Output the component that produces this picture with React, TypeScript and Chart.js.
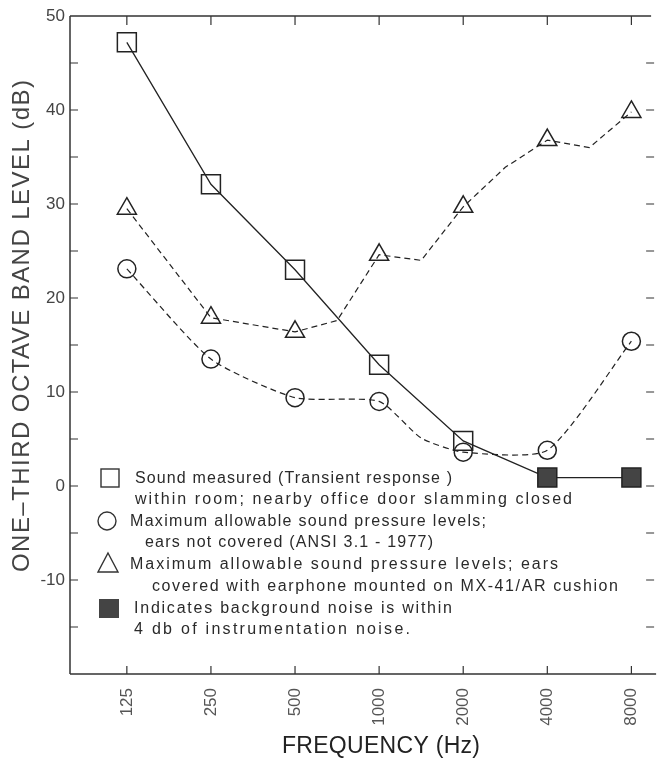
import React, { useEffect, useRef } from "react";
import { Chart, registerables } from "chart.js";

Chart.register(...registerables);

// ---------- data ----------
const freqLabels = ["125", "250", "500", "1000", "2000", "4000", "8000"];
const octaveIndex = [0, 1, 2, 3, 4, 5, 6];
const yTickValues = [-10, 0, 10, 20, 30, 40, 50];
const yMinorValues = [-15, -10, -5, 0, 5, 10, 15, 20, 25, 30, 35, 40, 45];

// sound measured (solid line, squares); last two points: background noise within 4 dB
const measuredLevels = [47.2, 32.1, 23.0, 12.9, 4.8, 0.9, 0.9];
const backgroundNoiseFlag = [false, false, false, false, false, true, true];

// ears not covered (circles, dashed)
const uncoveredX = [0, 1, 2, 3, 3.5, 4, 5, 6];
const uncoveredLevels = [23.1, 13.5, 9.4, 9.0, 5.1, 3.6, 3.8, 15.4];

// ears covered with earphone (triangles, dashed)
const coveredX = [0, 1, 2, 2.5, 3, 3.5, 4, 4.5, 5, 5.5, 6];
const coveredLevels = [29.5, 17.9, 16.4, 17.6, 24.6, 24.0, 29.7, 33.9, 36.8, 36.0, 39.8];

const yAxisTitle = "ONE\u2013THIRD OCTAVE BAND LEVEL (dB)";
const xAxisTitle = "FREQUENCY (Hz)";
const legendLines = [
  "Sound measured (Transient response )",
  "within room; nearby office door slamming closed",
  "Maximum allowable sound pressure levels;",
  "ears not covered (ANSI 3.1 - 1977)",
  "Maximum allowable sound pressure levels; ears",
  "covered with earphone mounted on MX-41/AR cushion",
  "Indicates background noise is within",
  "4 db of instrumentation noise.",
];

const FONT = "'Liberation Sans', Arial, sans-serif";
const INK = "#222";
const CANVAS_W = 669;

function drawFitted(ctx: CanvasRenderingContext2D, text: string, x: number, y: number, width: number) {
  (ctx as any).letterSpacing = "0px";
  const w = ctx.measureText(text).width;
  const ls = (width - w) / Math.max(1, text.length - 1);
  (ctx as any).letterSpacing = ls + "px";
  ctx.fillText(text, x, y);
  (ctx as any).letterSpacing = "0px";
}

const framePlugin = {
  id: "frame",
  afterDraw(chart: any) {
    const ctx: CanvasRenderingContext2D = chart.ctx;
    const { left, top, right, bottom } = chart.chartArea;
    const xs = chart.scales.x;
    const ys = chart.scales.y;
    ctx.save();
    ctx.strokeStyle = "#333";
    ctx.lineWidth = 1.5;
    ctx.beginPath();
    ctx.moveTo(left, top);
    ctx.lineTo(left, bottom);
    ctx.moveTo(left, top);
    ctx.lineTo(right - 3, top);
    ctx.moveTo(left, bottom);
    ctx.lineTo(right + 2, bottom);
    ctx.stroke();
    ctx.lineWidth = 1.2;
    ctx.beginPath();
    octaveIndex.forEach((v) => {
      const px = xs.getPixelForValue(v);
      ctx.moveTo(px, top);
      ctx.lineTo(px, top + 9);
      ctx.moveTo(px, bottom);
      ctx.lineTo(px, bottom - 8);
    });
    yMinorValues.forEach((v) => {
      const py = ys.getPixelForValue(v);
      ctx.moveTo(left, py);
      ctx.lineTo(left + 8, py);
      ctx.moveTo(right - 8, py);
      ctx.lineTo(right, py);
    });
    ctx.stroke();

    // axis titles
    ctx.fillStyle = "#444";
    ctx.textBaseline = "middle";
    ctx.textAlign = "left";
    ctx.font = "24px " + FONT;
    ctx.save();
    ctx.translate(22, 326);
    ctx.rotate(-Math.PI / 2);
    drawFitted(ctx, yAxisTitle, -246, 0, 492);
    ctx.restore();
    ctx.fillStyle = INK;
    ctx.font = "23px " + FONT;
    drawFitted(ctx, xAxisTitle, 282, 747, 198);

    // legend
    const rowsY = [479, 500, 522, 543, 565, 587, 609, 630];
    const rowsX = [135, 135, 130, 145, 130, 152, 134, 134];
    const rowsW = [317, 437, 356, 288, 428, 466, 318, 276];
    ctx.fillStyle = "#2a2a2a";
    ctx.font = "16px " + FONT;
    legendLines.forEach((t, i) => drawFitted(ctx, t, rowsX[i], rowsY[i], rowsW[i]));

    ctx.strokeStyle = "#333";
    ctx.lineWidth = 1.4;
    ctx.strokeRect(101, 469, 18, 18);
    ctx.beginPath();
    ctx.arc(107, 521, 9, 0, Math.PI * 2);
    ctx.stroke();
    ctx.beginPath();
    ctx.moveTo(108, 553);
    ctx.lineTo(118, 572);
    ctx.lineTo(98, 572);
    ctx.closePath();
    ctx.stroke();
    ctx.fillStyle = "#444";
    ctx.fillRect(99, 599, 20, 19);
    ctx.restore();
  },
};

export default function App() {
  const ref = useRef<HTMLCanvasElement | null>(null);
  useEffect(() => {
    if (!ref.current) return;
    const chart = new Chart(ref.current, {
      type: "line",
      data: {
        datasets: [
          {
            label: "measured",
            data: measuredLevels.map((v, i) => ({ x: octaveIndex[i], y: v })),
            borderColor: INK,
            borderWidth: 1.3,
            pointStyle: "rect",
            pointRadius: 13.4,
            pointBorderWidth: 1.5,
            pointBorderColor: INK,
            pointBackgroundColor: backgroundNoiseFlag.map((f) => (f ? "#444" : "rgba(0,0,0,0)")),
          },
          {
            label: "uncovered",
            data: uncoveredLevels.map((v, i) => ({ x: uncoveredX[i], y: v })),
            borderColor: INK,
            borderWidth: 1.2,
            borderDash: [6, 4],
            tension: 0.2,
            pointStyle: "circle",
            pointRadius: uncoveredX.map((x) => (Number.isInteger(x) ? 9 : 0)),
            pointBorderWidth: 1.5,
            pointBorderColor: INK,
            pointBackgroundColor: "rgba(0,0,0,0)",
          },
          {
            label: "covered",
            data: coveredLevels.map((v, i) => ({ x: coveredX[i], y: v })),
            borderColor: INK,
            borderWidth: 1.2,
            borderDash: [6, 4],
            pointStyle: "triangle",
            pointRadius: coveredX.map((x) => (Number.isInteger(x) ? 11 : 0)),
            pointBorderWidth: 1.5,
            pointBorderColor: INK,
            pointBackgroundColor: "rgba(0,0,0,0)",
          },
        ],
      },
      options: {
        animation: false,
        responsive: false,
        devicePixelRatio: 1,
        layout: { padding: { top: 16, right: 2, left: 0, bottom: 0 } },
        plugins: { legend: { display: false }, tooltip: { enabled: false } },
        scales: {
          x: {
            type: "linear",
            min: -0.676,
            max: 6.27,
            grid: { display: false, drawTicks: false },
            border: { display: false },
            afterBuildTicks: (s: any) => {
              s.ticks = octaveIndex.map((v) => ({ value: v }));
            },
            afterFit: (s: any) => {
              s.height = 91;
            },
            ticks: {
              autoSkip: false,
              minRotation: 90,
              maxRotation: 90,
              padding: 14,
              color: "#555",
              font: { family: FONT, size: 17 },
              callback: (v: any) => freqLabels[v as number] ?? "",
            },
          },
          y: {
            type: "linear",
            min: -20,
            max: 50,
            grid: { display: false, drawTicks: false },
            border: { display: false },
            afterBuildTicks: (s: any) => {
              s.ticks = yTickValues.map((v) => ({ value: v }));
            },
            afterFit: (s: any) => {
              s.width = 70;
            },
            ticks: {
              padding: 5,
              color: "#444",
              font: { family: FONT, size: 17 },
              callback: (v: any) => String(v),
            },
          },
        },
      },
      plugins: [framePlugin],
    });
    return () => chart.destroy();
  }, []);
  return (
    <div style={{ position: "absolute", left: 0, top: 0, width: 658, height: 765, overflow: "hidden", background: "#fff" }}>
      <canvas ref={ref} width={CANVAS_W} height={765} style={{ width: CANVAS_W, height: 765 }} />
    </div>
  );
}
